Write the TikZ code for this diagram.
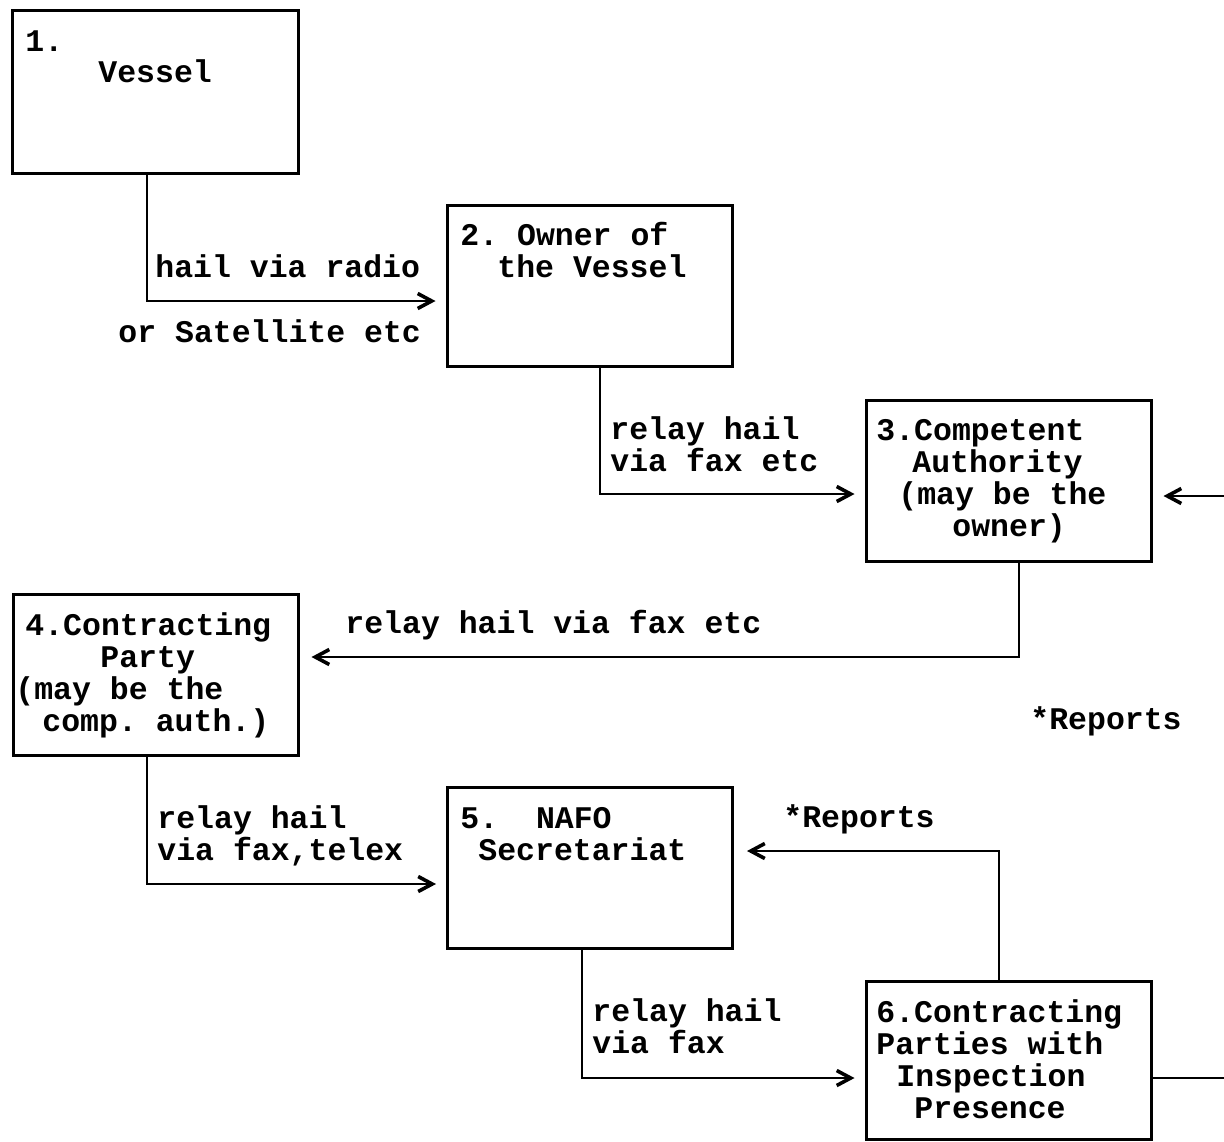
\documentclass[tikz,border=0pt]{standalone}
\usepackage{fontspec}
\newfontfamily\courfont{Liberation Mono}
\usetikzlibrary{arrows.meta}
\frenchspacing
\begin{document}
\begin{tikzpicture}[x=0.5pt,y=-0.5pt,
  every node/.style={font=\courfont\bfseries\fontsize{15.75pt}{16pt}\selectfont},
  box/.style={draw, line width=1.5pt, minimum width=142.5pt, minimum height=80.5pt, inner sep=0pt},
  txt/.style={anchor=base west, inner sep=0pt},
  conn/.style={line width=1.3pt, -{Straight Barb[length=7pt,width=7.5pt,line width=1.8pt]}},
  plain/.style={line width=1.3pt}]
\useasboundingbox (0,0) rectangle (1224,1141);
\begin{scope}
\clip (0,0) rectangle (1224,1141);

% boxes
\node[box, minimum width=143pt, minimum height=81.5pt] (v1) at (155,91.5) {};
\node[box] (v2) at (589.5,285.5) {};
\node[box] (v3) at (1008.5,480.5) {};
\node[box] (v4) at (155.5,674.5) {};
\node[box] (v5) at (590,867.5) {};
\node[box, minimum height=79pt] (v6) at (1008.5,1060) {};

% box texts
\node[txt] at (25,51) {1.};
\node[txt] at (98,82) {Vessel};
\node[txt] at (460,245) {2. Owner of};
\node[txt] at (497,277) {the Vessel};
\node[txt] at (876,440) {3.Competent};
\node[txt] at (912,472) {Authority};
\node[txt] at (898,504) {(may be the};
\node[txt] at (952,536) {owner)};
\node[txt] at (25,635) {4.Contracting};
\node[txt] at (100,667) {Party};
\node[txt] at (15,699) {(may be the};
\node[txt] at (42,731) {comp. auth.)};
\node[txt] at (460,828) {5.\ \ NAFO};
\node[txt] at (478,860) {Secretariat};
\node[txt] at (876,1022) {6.Contracting};
\node[txt] at (876,1054) {Parties with};
\node[txt] at (896,1086) {Inspection};
\node[txt] at (914,1118) {Presence};

% connectors
\draw[conn] ([xshift=-4pt]v1.south) |- ([xshift=-5pt,yshift=-7.75pt]v2.west);
\draw[conn] ([xshift=5.25pt]v2.south) |- ([xshift=-5pt,yshift=-6.75pt]v3.west);
\draw[conn] ([xshift=5.25pt]v3.south) |- ([xshift=6pt,yshift=8.75pt]v4.east);
\draw[conn] ([xshift=-4.25pt]v4.south) |- ([xshift=-5pt,yshift=-8.25pt]v5.west);
\draw[conn] ([xshift=-4pt]v5.south) |- ([xshift=-5pt,yshift=-9pt]v6.west);
\draw[conn] ([xshift=-4.75pt]v6.north) |- ([xshift=6.5pt,yshift=8.25pt]v5.east);

% reports loop leaving the page on the right
\coordinate (offlow) at (1240,1078);
\coordinate (offhigh) at (1240,496);
\draw[plain] ([yshift=-9pt]v6.east) -- (offlow);
\draw[conn] (offhigh) -- ([xshift=5.5pt,yshift=-7.75pt]v3.east);

% connector labels
\node[txt] at (155,277) {hail via radio};
\node[txt] at (118,342) {or Satellite etc};
\node[txt] at (610,439) {relay hail};
\node[txt] at (610,471) {via fax etc};
\node[txt] at (345,633) {relay hail via fax etc};
\node[txt] at (1030,729) {*Reports};
\node[txt] at (157,828) {relay hail};
\node[txt] at (157,860) {via fax,telex};
\node[txt] at (783,827) {*Reports};
\node[txt] at (592,1021) {relay hail};
\node[txt] at (592,1053) {via fax};
\end{scope}
\end{tikzpicture}
\end{document}
